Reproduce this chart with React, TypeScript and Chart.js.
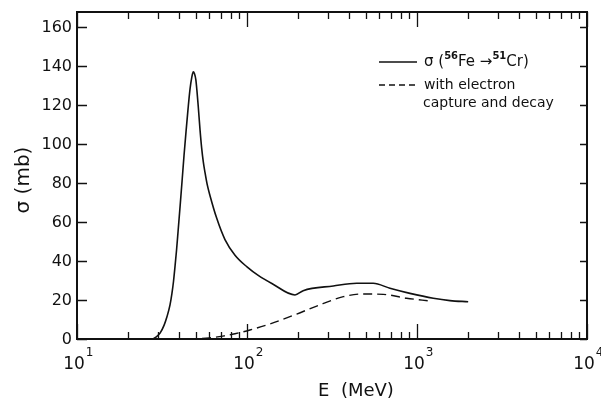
import React, { useEffect, useRef } from 'react';
import { Chart, registerables } from 'chart.js';

Chart.register(...registerables);

// Solid curve: sigma(56Fe -> 51Cr)
const E_SOLID = [27.9, 29.15, 30.8, 32.5, 33.85, 35.25, 36.2, 36.95, 37.7, 38.5, 39.3, 40.4, 41.5, 42.6, 43.8, 45.0, 46.2, 47.3, 48.3, 49.1, 50.0, 50.8, 51.7, 52.9, 54.1, 55.3, 56.6, 58.4, 60.6, 66.3, 74.2, 85, 100, 117, 140, 191.6, 214, 322, 442, 553, 693, 909, 1247, 1563, 2000];
const SIGMA_SOLID = [0, 1, 3, 7, 11.5, 17.5, 23.5, 29.5, 37, 45.5, 55, 68, 81, 94, 106.5, 118, 128, 134, 137, 136, 133, 127, 119, 107.5, 98, 91, 85.5, 79, 73.5, 62, 51, 43, 37, 32.5, 28.5, 22.6, 24.8, 27.2, 28.6, 28.6, 26, 23.4, 20.9, 19.7, 19.1];

// Dashed curve: with electron capture and decay
const E_DASHED = [45, 60, 72, 85, 104, 136, 196, 257, 369, 483, 634, 869, 1191];
const SIGMA_DASHED = [0, 0.6, 1.5, 2.7, 4.6, 7.7, 12.8, 16.9, 21.7, 23.1, 22.9, 20.9, 19.5];

const Y_TICKS = [0, 20, 40, 60, 80, 100, 120, 140, 160];
const X_DECADES = [10, 100, 1000, 10000];
const X_EXPONENTS = ['1', '2', '3', '4'];
const X_MINOR_MULT = [2, 3, 4, 5, 6, 7, 8, 9];

const X_TITLE = 'E  (MeV)';
const Y_TITLE = 'σ (mb)';
const LEGEND_2A = 'with electron';
const LEGEND_2B = 'capture and decay';

const FONT = '"DejaVu Sans", "Liberation Sans", sans-serif';
const INK = '#111';

const decorPlugin = {
  id: 'decor',
  afterDraw(chart: any) {
    const ctx = chart.ctx as CanvasRenderingContext2D;
    const { left, right, top, bottom } = chart.chartArea;
    const xs = chart.scales.x;
    const ys = chart.scales.y;
    ctx.save();
    ctx.strokeStyle = INK;
    ctx.fillStyle = INK;

    // frame
    ctx.lineWidth = 2;
    ctx.strokeRect(left, top, right - left, bottom - top);

    // x ticks (inside, bottom and top)
    ctx.lineWidth = 1.3;
    const xTickVals: { v: number; major: boolean }[] = [];
    X_DECADES.forEach((d, i) => {
      xTickVals.push({ v: d, major: true });
      if (i < X_DECADES.length - 1) X_MINOR_MULT.forEach((m) => xTickVals.push({ v: m * d, major: false }));
    });
    xTickVals.forEach(({ v, major }) => {
      const px = Math.round(xs.getPixelForValue(v)) + 0.5;
      const len = major ? 15 : 7;
      ctx.beginPath();
      ctx.moveTo(px, bottom);
      ctx.lineTo(px, bottom - len);
      ctx.moveTo(px, top);
      ctx.lineTo(px, top + len);
      ctx.stroke();
    });

    // y ticks (inside, left and right)
    Y_TICKS.forEach((v) => {
      const py = Math.round(ys.getPixelForValue(v)) + 0.5;
      ctx.beginPath();
      ctx.moveTo(left, py);
      ctx.lineTo(left + 10, py);
      ctx.moveTo(right, py);
      ctx.lineTo(right - 7, py);
      ctx.stroke();
    });

    // y tick labels
    ctx.font = `16px ${FONT}`;
    ctx.textAlign = 'right';
    ctx.textBaseline = 'middle';
    Y_TICKS.forEach((v) => {
      ctx.fillText(String(v), left - 5, ys.getPixelForValue(v) + 1);
    });

    // x tick labels 10^n
    ctx.textBaseline = 'alphabetic';
    X_DECADES.forEach((d, i) => {
      const px = xs.getPixelForValue(d);
      ctx.font = `17px ${FONT}`;
      ctx.textAlign = 'left';
      const w = ctx.measureText('10').width;
      const x0 = px - w / 2 - 3;
      ctx.fillText('10', x0, 369);
      ctx.font = `12px ${FONT}`;
      ctx.fillText(X_EXPONENTS[i], x0 + w + 1, 356);
    });

    // x title
    ctx.font = `18px ${FONT}`;
    ctx.textAlign = 'center';
    ctx.fillText(X_TITLE, 356, 396);

    // y title
    ctx.save();
    ctx.translate(29, 180);
    ctx.rotate(-Math.PI / 2);
    ctx.font = `20px ${FONT}`;
    ctx.textAlign = 'center';
    ctx.textBaseline = 'alphabetic';
    ctx.fillText(Y_TITLE, 0, 0);
    ctx.restore();

    // legend
    ctx.lineWidth = 1.4;
    ctx.beginPath();
    ctx.moveTo(379, 62);
    ctx.lineTo(417, 62);
    ctx.stroke();
    ctx.setLineDash([6, 4]);
    ctx.beginPath();
    ctx.moveTo(379, 85);
    ctx.lineTo(417, 85);
    ctx.stroke();
    ctx.setLineDash([]);

    ctx.textAlign = 'left';
    ctx.textBaseline = 'alphabetic';
    let x = 424;
    const by = 66;
    const part = (t: string, size: number, dy: number, bold = false) => {
      ctx.font = `${bold ? 'bold ' : ''}${size}px ${FONT}`;
      ctx.fillText(t, x, by + dy);
      x += ctx.measureText(t).width;
    };
    part('σ (', 15, 0);
    part('56', 10, -7, true);
    part('Fe ', 15, 0);
    part('→', 15, 0);
    part('51', 10, -7, true);
    part('Cr)', 15, 0);

    ctx.font = `14px ${FONT}`;
    ctx.fillText(LEGEND_2A, 424, 89);
    ctx.fillText(LEGEND_2B, 423, 107);

    ctx.restore();
  },
};

export default function App() {
  const ref = useRef<HTMLCanvasElement | null>(null);
  useEffect(() => {
    document.body.style.margin = '0';
    const canvas = ref.current!;
    const solid = E_SOLID.map((e, i) => ({ x: e, y: SIGMA_SOLID[i] }));
    const dashed = E_DASHED.map((e, i) => ({ x: e, y: SIGMA_DASHED[i] }));
    const chart = new Chart(canvas, {
      type: 'line',
      data: {
        datasets: [
          {
            label: 'σ (56Fe → 51Cr)',
            data: solid,
            borderColor: INK,
            borderWidth: 1.6,
            pointRadius: 0,
            fill: false,
            cubicInterpolationMode: 'monotone',
          },
          {
            label: 'with electron capture and decay',
            data: dashed,
            borderColor: INK,
            borderWidth: 1.4,
            borderDash: [9, 5],
            pointRadius: 0,
            fill: false,
            cubicInterpolationMode: 'monotone',
          },
        ],
      },
      options: {
        animation: false,
        responsive: false,
        maintainAspectRatio: false,
        layout: { padding: { left: 77, right: 14, top: 12, bottom: 60 } },
        plugins: { legend: { display: false }, tooltip: { enabled: false } },
        scales: {
          x: { type: 'logarithmic', min: 10, max: 10000, display: false },
          y: { type: 'linear', min: 0, max: 167.7, display: false },
        },
      },
      plugins: [decorPlugin],
    });
    return () => chart.destroy();
  }, []);
  return (
    <div style={{ position: 'fixed', left: 0, top: 0, width: 601, height: 399, background: '#fff' }}>
      <canvas ref={ref} width={601} height={399} style={{ width: 601, height: 399 }} />
    </div>
  );
}
